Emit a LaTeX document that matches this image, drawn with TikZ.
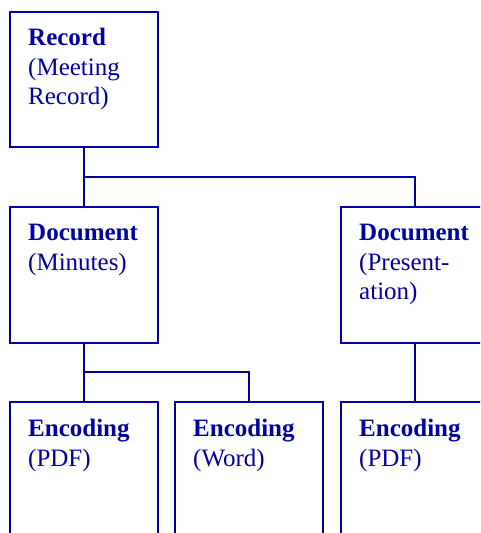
\documentclass[tikz,border=0pt]{standalone}
\usepackage{fontspec}
\setmainfont{Liberation Serif}
\usetikzlibrary{positioning,calc}
\definecolor{boxblue}{RGB}{0,0,160}
\begin{document}
\begin{tikzpicture}[x=1pt, y=-1pt,
    box/.style={draw=boxblue, line width=2pt, minimum width=148pt, minimum height=136pt,
        anchor=north west, inner sep=0pt, outer sep=0pt},
    txt/.style={anchor=north west, inner sep=0pt, align=left, text=boxblue,
        font=\fontsize{25}{29.5}\selectfont},
    link/.style={draw=boxblue, line width=2pt}]
    % 画布大小
    \useasboundingbox (0,0) rectangle (480,533);
    \clip (0,0) rectangle (480,533);

    % 方框
    \node[box, minimum height=135pt] (rec) at (10,12) {};
    \node[box] (docA) at (10,207) {};
    \node[box] (docB) at (341,207) {};
    \node[box, minimum height=200pt] (encA) at (10,402) {};
    \node[box, minimum height=200pt] (encB) at (175,402) {};
    \node[box, minimum height=200pt] (encC) at (341,402) {};

    % 文字
    \node[txt] (recT) at ($(rec.north west)+(18,16)$) {\textbf{Record}\\(Meeting\\Record)};
    \node[txt] (docAT) at ($(docA.north west)+(18,17)$) {\textbf{Document}\\(Minutes)};
    \node[txt] (docBT) at ($(docB.north west)+(18,17)$) {\textbf{Document}\\(Present-\\ation)};
    \node[txt] (encAT) at ($(encA.north west)+(18,17)$) {\textbf{Encoding}\\(PDF)};
    \node[txt] (encBT) at ($(encB.north west)+(18,17)$) {\textbf{Encoding}\\(Word)};
    \node[txt] (encCT) at ($(encC.north west)+(18,17)$) {\textbf{Encoding}\\(PDF)};

    % 连线
    \coordinate (j1) at ($(rec.south)+(0,30)$);
    \coordinate (j2) at ($(docA.south)+(0,29)$);
    \draw[link] (rec.south) -- (j1) -| (docB.north);
    \draw[link] (j1) -- (docA.north);
    \draw[link] (docA.south) -- (j2) -| (encB.north);
    \draw[link] (j2) -- (encA.north);
    \draw[link] (docB.south) -- (encC.north);
\end{tikzpicture}
\end{document}
